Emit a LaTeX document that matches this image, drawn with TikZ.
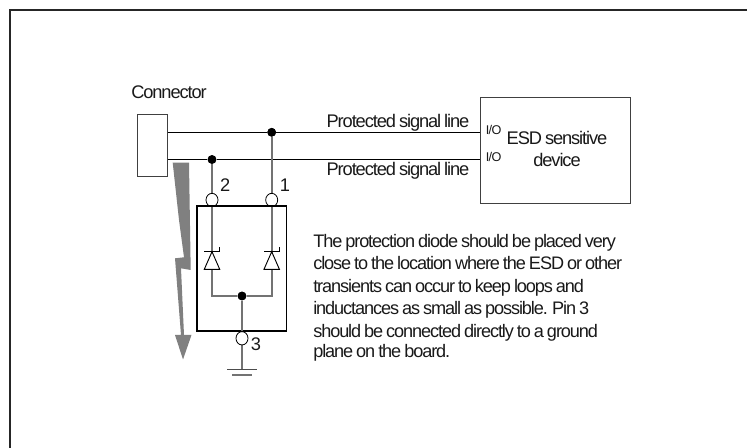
\documentclass[tikz,border=0pt]{standalone}
\usepackage{fontspec}
\usetikzlibrary{shapes.geometric}
\setmainfont[LetterSpace=-6,WordSpace=0.75]{Liberation Sans}
\begin{document}
\begin{tikzpicture}[x=0.75pt,y=-0.75pt,
  frameline/.style={line width=1.6pt,black!85},
  thinbox/.style={draw=black!75,line width=0.8pt,fill=white},
  wire/.style={line width=1.1pt,black},
  gwire/.style={line width=1.2pt,black!55},
  junction/.style={circle,fill=black,inner sep=0pt,minimum size=6.5pt},
  pin/.style={ellipse,draw=black,fill=white,line width=0.6pt,inner sep=0pt,minimum width=9pt,minimum height=10pt},
  diodebody/.style={draw=black,line width=0.7pt,fill=white},
  lbl/.style={inner sep=0pt,font=\fontsize{13.7}{15}\selectfont,text=black!90},
  io/.style={inner sep=0pt,font=\fontsize{9.5}{10}\selectfont,text=black!90}]
\useasboundingbox (0,0) rectangle (747,448);
\coordinate (fa) at (10,448); \coordinate (fb) at (10,10); \coordinate (fc) at (747,10);
\draw[frameline] (fa) -- (fb) -- (fc);
% lightning bolt
\fill[black!50] (172.7,162.7) -- (189,162.7) -- (190.7,270) -- (181,268.3) -- (184,335) -- (191.5,335) -- (183,359.5) -- (175,335) -- (181,335) -- (175,258.3) -- (184,257.3) -- (179,220) -- cycle;
% boxes
\node[thinbox,minimum width=22.5pt,minimum height=46.8pt,inner sep=0pt] (conn) at (152.3,145.5) {};
\node[thinbox,minimum width=112.3pt,minimum height=79.5pt,inner sep=0pt] (dev) at (555.8,150.3) {};
\node[draw=black,line width=1.1pt,inner sep=0pt,minimum width=67.3pt,minimum height=93.2pt] (pkg) at (241.8,268.8) {};
% junctions and pins
\node[junction] (j1) at (271.7,132.3) {};
\node[junction] (j2) at (212,159.5) {};
\node[junction] (j3) at (242,296) {};
\coordinate (p1c) at (271.7,200); \coordinate (p2c) at (212,200); \coordinate (p3c) at (242,338.3);
% signal lines
\coordinate (c1) at (conn.east |- j1); \coordinate (d1) at (dev.west |- j1);
\coordinate (c2) at (conn.east |- j2); \coordinate (d2) at (dev.west |- j2);
\draw[wire] (c1) -- (j1) -- (d1);
\draw[wire] (c2) -- (j2) -- (d2);
% branches
\coordinate (t1) at (271.7,252); \coordinate (t2) at (212,252);
\coordinate (b1) at (271.7,296); \coordinate (b2) at (212,296);
\coordinate (g0) at (242,369.3);
\draw[gwire] (j1) -- (p1c) -- (t1);
\draw[gwire] (j2) -- (p2c) -- (t2);
\draw[gwire] (t1) -- (b1) -- (j3) -- (b2) -- (t2);
\draw[gwire] (j3) -- (p3c) -- (g0);
\node[junction] at (j1) {}; \node[junction] at (j2) {}; \node[junction] at (j3) {};
\node[pin] (p1) at (p1c) {}; \node[pin] (p2) at (p2c) {}; \node[pin] (p3) at (p3c) {};
\draw[black,line width=1.1pt] (pkg.north west) -- (pkg.north east);
\draw[black,line width=1.1pt] (pkg.south west) -- (pkg.south east);
% diodes
\foreach \x in {212,271.7}{
  \draw[diodebody] (\x,251.7) -- (\x+7.7,269.3) -- (\x-7.7,269.3) -- cycle;
  \draw[black,line width=0.7pt] (\x-7.7,251.7) -- (\x+7.7,251.7) -- (\x+7.7,247.5);
}
% ground
\coordinate (g1a) at (227,369.3); \coordinate (g1b) at (257,369.3);
\coordinate (g2a) at (232,375); \coordinate (g2b) at (252,375);
\draw[black!70,line width=1pt] (g1a) -- (g1b);
\draw[black!55,line width=1.1pt] (g2a) -- (g2b);
% text
\node[lbl,anchor=base west] (tconn) at (131,98.5) {Connector};
\node[lbl,anchor=base] (l1) at (398,127.3) {Protected signal line};
\node[lbl,anchor=base] (l2) at (398,176) {Protected signal line};
\node[lbl,anchor=base] (n1) at (285,191.7) {1};
\node[lbl,anchor=base] (n2) at (225.3,191.7) {2};
\node[lbl,anchor=base] (n3) at (256,350.7) {3};
\node[io,anchor=base west] (io1) at (485.7,135) {I/O};
\node[io,anchor=base west] (io2) at (485.7,161.7) {I/O};
\node[lbl,anchor=base] (e1) at (557,145) {ESD sensitive};
\node[lbl,anchor=base] (e2) at (557,166.7) {device};
\node[lbl,anchor=north west,align=flush left,text width=330pt] (para) at (313,233.6)
 {\fontsize{13.6}{16.9}\selectfont The protection diode should be placed very\\close to the location where the ESD or other\\transients can occur to keep loops and\\inductances as small as possible. Pin 3\\should be connected directly to a ground\\plane on the board.};
\end{tikzpicture}
\end{document}
